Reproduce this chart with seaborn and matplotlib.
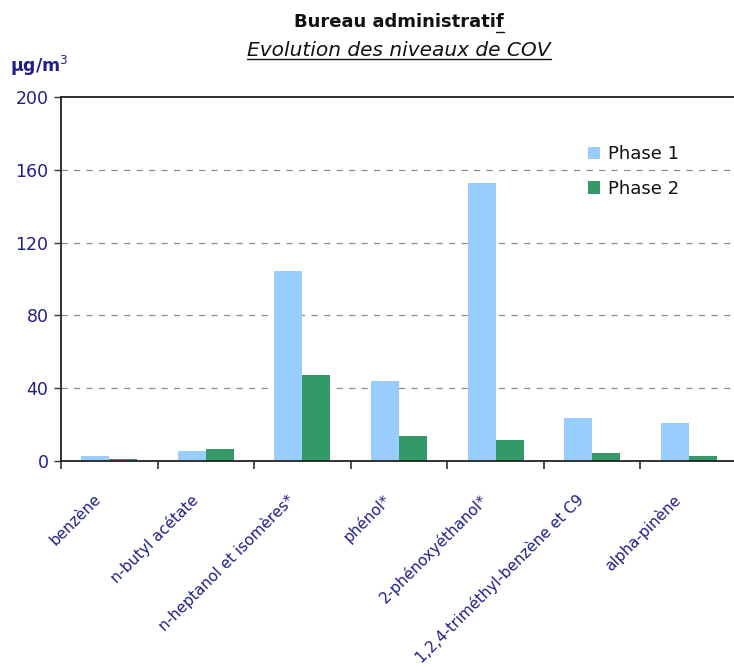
import matplotlib
matplotlib.use("Agg")
import matplotlib.pyplot as plt
from matplotlib.lines import Line2D
from matplotlib.transforms import ScaledTranslation
import seaborn as sns
import pandas as pd

categories = ["benzène", "n-butyl acétate", "n-heptanol et isomères*", "phénol*",
              "2-phénoxyéthanol*", "1,2,4-triméthyl-benzène et C9", "alpha-pinène"]
phase1 = [2.7, 5.5, 104.5, 44.0, 152.5, 23.5, 21.0]
phase2 = [0.9, 6.8, 47.0, 13.5, 11.8, 4.5, 2.8]
series = ["Phase 1", "Phase 2"]
yticks = [0, 40, 80, 120, 160, 200]

navy = "#1f1f8a"
colors = {"Phase 1": "#99ccff", "Phase 2": "#339966"}

sns.set_theme(style="white")
plt.rcParams["font.family"] = ["DejaVu Sans"]

df = pd.DataFrame({
    "composé": categories * 2,
    "valeur": phase1 + phase2,
    "phase": [series[0]] * len(categories) + [series[1]] * len(categories),
})

fig = plt.figure(figsize=(7.34, 6.68), dpi=100)
ax = fig.add_axes([61 / 734, 207 / 668, 676 / 734, 364 / 668])

sns.barplot(data=df, x="composé", y="valeur", hue="phase", palette=colors,
            width=0.58, gap=0, saturation=1, ax=ax, legend=True,
            edgecolor="none", linewidth=0)

ax.set_xlim(-0.5, len(categories) - 0.5)
ax.set_ylim(0, 200)
ax.set_yticks(yticks)
ax.set_yticklabels([str(v) for v in yticks], color=navy, fontsize=12.5)
ax.set_xlabel("")
ax.set_ylabel("")

# dashed gridlines at the intermediate values only
for v in yticks[1:-1]:
    ax.axhline(v, color="#8c8c8c", lw=0.9, ls=(0, (5, 5)), zorder=0)

# category labels under the groups, tick marks on the group boundaries
ax.set_xticks(range(len(categories)))
ax.set_xticklabels(categories, rotation=45, ha="right", rotation_mode="anchor",
                   color=navy, fontsize=11)
ax.tick_params(axis="x", which="major", length=0, pad=22)
shift = ScaledTranslation(-16 / 100, 0, fig.dpi_scale_trans)
for lab in ax.get_xticklabels():
    lab.set_transform(lab.get_transform() + shift)
ax.set_xticks([i - 0.5 for i in range(len(categories) + 1)], minor=True)
ax.tick_params(axis="x", which="minor", length=6, width=1.2, color="#333333",
               direction="out", bottom=True)
ax.tick_params(axis="y", length=5, width=1, color="#333333", direction="out",
               left=True, pad=4)

for side in ["left", "top", "bottom", "right"]:
    ax.spines[side].set_visible(True)
    ax.spines[side].set_color("#222222")
    ax.spines[side].set_linewidth(1.3)

leg = ax.legend(loc="upper left", bbox_to_anchor=(0.755, 0.912), frameon=False,
                fontsize=13, handlelength=0.7, handleheight=0.7,
                handletextpad=0.45, labelspacing=0.9)
for t in leg.get_texts():
    t.set_color("#111111")

# titles
cx = (61 + 737) / 2 / 734
t1 = fig.text(cx, 1 - 22 / 668, "Bureau administratif", ha="center", va="center",
              fontsize=13, fontweight="bold", color="#111111")
t2 = fig.text(cx, 1 - 50 / 668, "Evolution des niveaux de COV", ha="center",
              va="center", fontsize=14.5, fontstyle="italic", color="#111111")
fig.text(10 / 734, 1 - 66 / 668, "µg/m$^3$", ha="left", va="center",
         fontsize=12.5, fontweight="bold", color=navy)

fig.canvas.draw()
r = fig.canvas.get_renderer()
W, H = fig.bbox.width, fig.bbox.height

# underline the last letter of the title
b1 = t1.get_window_extent(r)
probe = fig.text(0, 0, "Bureau administrati", fontsize=13, fontweight="bold")
pw = probe.get_window_extent(r).width
probe.remove()
y1 = b1.y0 - 1
fig.add_artist(Line2D([(b1.x0 + pw) / W, b1.x1 / W], [y1 / H, y1 / H],
                      color="#111111", lw=1.0, transform=fig.transFigure))

# underline the subtitle
b2 = t2.get_window_extent(r)
y2 = b2.y0 + 1
fig.add_artist(Line2D([b2.x0 / W, b2.x1 / W], [y2 / H, y2 / H],
                      color="#111111", lw=1.0, transform=fig.transFigure))

fig.savefig("out.png", dpi=100)
